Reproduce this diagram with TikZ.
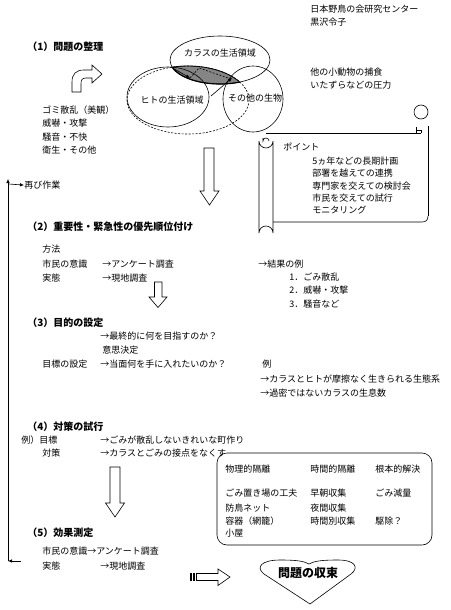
\documentclass[tikz,border=0pt]{standalone}
\usepackage{fontspec}
\setmainfont{Noto Sans CJK JP}
\usetikzlibrary{arrows.meta}

\tikzset{
  txt/.style={anchor=base west, inner sep=0pt, font=\fontsize{9}{11}\selectfont},
  head/.style={anchor=base west, inner sep=0pt, font=\bfseries\fontsize{10}{12}\selectfont},
  label/.style={anchor=center, inner sep=0pt, font=\fontsize{9}{11}\selectfont},
  hollow/.style={draw, fill=white, line width=0.6pt},
  arr/.style={-{Latex[length=4pt,width=3.5pt]}, line width=0.6pt},
}

\begin{document}
\begin{tikzpicture}[x=1pt,y=-1pt,line width=0.6pt]
\useasboundingbox (0,0) rectangle (450,610);

% author
\node[txt] (org) at (310,12.5) {日本野鳥の会研究センター};
\node[txt] (author) at (310,25.5) {黒沢令子};

% (1)
\node[head] (h1) at (27,50.5) {（1）問題の整理};
\draw[hollow] (72,92) -- (72,82) .. controls (72,74) and (76,70) .. (84,70) -- (92,70)
  -- (92,65) -- (102,74) -- (92,83) -- (92,78) -- (86,78)
  .. controls (82,78) and (81,80) .. (81,84) -- (81,92) -- cycle;
\foreach \t [count=\i] in {ゴミ散乱（美観）,威嚇・攻撃,騒音・不快,衛生・その他}
  \node[txt] (harm\i) at (42,{100.2+13.3*\i}) {\t};

% venn
\begin{scope}
  \clip (220,60) ellipse [x radius=50, y radius=24];
  \fill[black!48] (188,100) ellipse [x radius=61, y radius=34];
\end{scope}
\draw (220,60) ellipse [x radius=50, y radius=24];
\draw (168,97) ellipse [x radius=41, y radius=30];
\draw (253,99) ellipse [x radius=30, y radius=33];
\draw[dash pattern=on 2pt off 1.5pt] (188,100) ellipse [x radius=61, y radius=34];
\begin{scope}
  \clip (220,60) ellipse [x radius=50, y radius=24];
  \draw[line width=0.8pt] (188,100) ellipse [x radius=61, y radius=34];
\end{scope}
\begin{scope}
  \clip (188,100) ellipse [x radius=61, y radius=34];
  \draw[line width=1.2pt] (220,60) ellipse [x radius=50, y radius=24];
\end{scope}
\draw[arr] (171,67) -- (190,78);
\draw[dash pattern=on 2pt off 1.5pt] (190,78) -- (199,68) -- (231,79);
\draw[arr] (211,96) -- (232,78);
\node[label] (crow) at (220,53) {カラスの生活領域};
\node[label] (human) at (172,100) {ヒトの生活領域};
\node[label] (other) at (255,98) {その他の生物};

\node[txt] (prey1) at (310,75) {他の小動物の捕食};
\node[txt] (prey2) at (310,88.5) {いたずらなどの圧力};

% scroll
\draw (266,133) -- (421,133);
\draw (421,119) arc[start angle=90, end angle=-90, radius=7];
\draw (421,119) arc[start angle=90, end angle=270, radius=7];
\draw (416,127) -- (416,133) (416,130) -- (421,130) -- (421,133);
\draw (428,126) -- (428,216);
\draw (428,216) .. controls (428,220) and (426,222) .. (422,222) -- (273,222);
\draw (259,141) arc[start angle=180, end angle=0, radius=7]
  (259,141) -- (259,233) arc[start angle=180, end angle=360, radius=7] -- (273,141);
\draw (269,141) arc[start angle=0, end angle=-180, radius=3] -- (263,138);
\node[txt] (point) at (283,150.5) {ポイント};
\foreach \t [count=\i] in {5ヵ年などの長期計画,部署を越えての連携,専門家を交えての検討会,市民を交えての試行,モニタリング}
  \node[txt] (point\i) at (312,{152.2+12.3*\i}) {\t};

% arrow 1
\draw[hollow] (204,148) -- (214,148) -- (214,191) -- (219,191) -- (209.5,205)
  -- (200,191) -- (204,191) -- cycle;

% loop back
\node[txt] (again) at (24,188.5) {再び作業};
\coordinate (loopbot) at (21,561);
\coordinate (loopcorner) at (8,561);
\coordinate (looptop) at (8,179);
\draw[arr] (loopbot) -- (loopcorner);
\draw[arr] (loopcorner) -- (looptop);
\draw[arr] (8.5,184) -- (again.west);

% (2)
\node[head] (h2) at (27,230) {（2）重要性・緊急性の優先順位付け};
\node[txt] (method) at (42,252) {方法};
\node[txt] (citizen) at (42,267.5) {市民の意識};
\node[txt] (fact) at (42,281) {実態};
\node[txt] (survey) at (102,267.5) {→アンケート調査};
\node[txt] (field) at (102,281) {→現地調査};
\node[txt] (result) at (258,267.5) {→結果の例};
\foreach \t [count=\i] in {1．ごみ散乱,2．威嚇・攻撃,3．騒音など}
  \node[txt] (result\i) at (289,{266.5+13.7*\i}) {\t};

% arrow 2
\draw[hollow] (154.5,282) -- (162,282) -- (162,297) -- (167,297) -- (158,307.5)
  -- (149,297) -- (154.5,297) -- cycle;

% (3)
\node[head] (h3) at (27,326) {（3）目的の設定};
\node[txt] (final) at (100,339.5) {→最終的に何を目指すのか？};
\node[txt] (decide) at (102,353) {意思決定};
\node[txt] (goal) at (42,367.5) {目標の設定};
\node[txt] (now) at (100,367.5) {→当面何を手に入れたいのか？};
\node[txt] (ex) at (262,367.5) {例};
\node[txt] (ex1) at (260,382.5) {→カラスとヒトが摩擦なく生きられる生態系};
\node[txt] (ex2) at (260,396.5) {→過密ではないカラスの生息数};

% (4)
\node[head] (h4) at (27,430) {（4）対策の試行};
\node[txt] (target) at (21,443) {例）目標};
\node[txt] (measure) at (42,456.5) {対策};
\node[txt] (town) at (100,443) {→ごみが散乱しないきれいな町作り};
\node[txt] (contact) at (100,456.5) {→カラスとごみの接点をなくす};

% arrow 3
\draw[hollow] (110,467) -- (120,467) -- (120,503) -- (124.5,503) -- (115,517)
  -- (105.5,503) -- (110,503) -- cycle;

% options box
\draw[rounded corners=10pt] (217,453) rectangle (432,545);
\node[txt] (opt11) at (225,472.5) {物理的隔離};
\node[txt] (opt12) at (310,472.5) {時間的隔離};
\node[txt] (opt13) at (375,472.5) {根本的解決};
\node[txt] (opt21) at (225,496.5) {ごみ置き場の工夫};
\node[txt] (opt22) at (310,496.5) {早朝収集};
\node[txt] (opt23) at (375,496.5) {ごみ減量};
\node[txt] (opt31) at (225,511) {防鳥ネット};
\node[txt] (opt32) at (310,511) {夜間収集};
\node[txt] (opt41) at (225,524.5) {容器（網籠）};
\node[txt] (opt42) at (310,524.5) {時間別収集};
\node[txt] (opt43) at (375,524.5) {駆除？};
\node[txt] (opt51) at (225,536.5) {小屋};

% (5)
\node[head] (h5) at (27,536) {（5）効果測定};
\node[txt] (citizen5) at (42,554.5) {市民の意識→アンケート調査};
\node[txt] (fact5) at (42,569.5) {実態};
\node[txt] (field5) at (100,569.5) {→現地調査};

% striped arrow
\draw[hollow] (190,573.5) rectangle (191.5,580.5);
\draw[hollow] (193,573.5) rectangle (194.5,580.5);
\draw[hollow] (196.5,573.5) -- (218,573.5) -- (218,569) -- (230,577) -- (218,585.5)
  -- (218,580.5) -- (196.5,580.5) -- cycle;

% heart
\draw (310,604) -- (264,574) .. controls (255,567) and (262,560) .. (280,560)
  .. controls (296,560) and (304,561) .. (309,564)
  .. controls (314,561) and (322,560) .. (338,560)
  .. controls (356,560) and (359,568) .. (351,574) -- cycle;
\node[anchor=center, inner sep=0pt, font=\bfseries\fontsize{12}{14}\selectfont] (solved) at (308,573) {問題の収束};
\end{tikzpicture}
\end{document}
